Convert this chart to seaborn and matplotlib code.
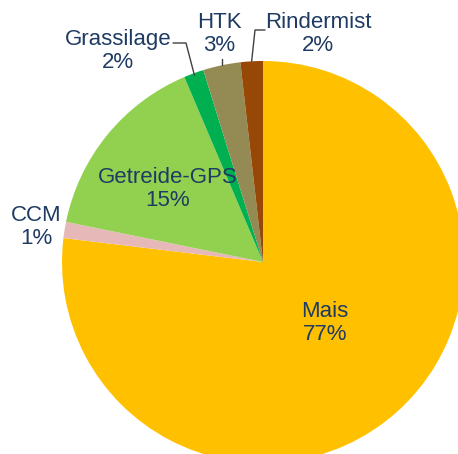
import numpy as np
import matplotlib
matplotlib.use("Agg")
import matplotlib.pyplot as plt
import seaborn as sns

sns.set_theme(style="white")
plt.rcParams['font.family'] = ['Liberation Sans', 'DejaVu Sans']

substrate = ['Mais', 'CCM', 'Getreide-GPS', 'Grassilage', 'HTK', 'Rindermist']
anteil = [76.9, 1.3, 15.4, 1.6, 3.0, 1.8]
prozent = ['77%', '1%', '15%', '2%', '3%', '2%']
colors = ['#FFC000', '#E6B9B8', '#92D050', '#00B050', '#948A54', '#974706']
textfarbe = '#1F3B63'

W, H = 458, 454
fig = plt.figure(figsize=(W / 100, H / 100), dpi=100)
ax = fig.add_axes([0, 0, 1, 1])
cx, cy, r = 263, H - 262, 201
wedges, _ = ax.pie(anteil, colors=colors, startangle=90, counterclock=False,
                   radius=r, center=(cx, cy), wedgeprops=dict(linewidth=0))
ax.set_xlim(0, W)
ax.set_ylim(0, H)
ax.set_aspect('equal')
ax.axis('off')

# label centres in pixels (x, y from top)
label_pos = {
    'Mais': (325, 323),
    'CCM': (36, 227),
    'Getreide-GPS': (168, 189),
    'Grassilage': (118, 51),
    'HTK': (219, 34),
    'Rindermist': (318, 34),
}
for name, p in zip(substrate, prozent):
    x, y = label_pos[name]
    ax.text(x, H - y, f'{name}\n{p}', ha='center', va='center', fontsize=16,
            color=textfarbe, linespacing=1.12)

# leader lines to the small slices at the top
def rim(w, f=1.0):
    a = np.deg2rad((w.theta1 + w.theta2) / 2)
    return cx + r * f * np.cos(a), cy + r * f * np.sin(a)

gx, gy = rim(wedges[3], 0.99)
ax.plot([173, 186, gx], [H - 43, H - 43, gy], color='#404040', lw=1)
hx, hy = rim(wedges[4], 1.0)
ax.plot([hx, hx], [H - 59, hy], color='#404040', lw=1)
rx, ry = rim(wedges[5], 1.0)
ax.plot([265, 255, rx], [H - 30, H - 30, ry], color='#404040', lw=1)

fig.savefig('out.png', dpi=100)
